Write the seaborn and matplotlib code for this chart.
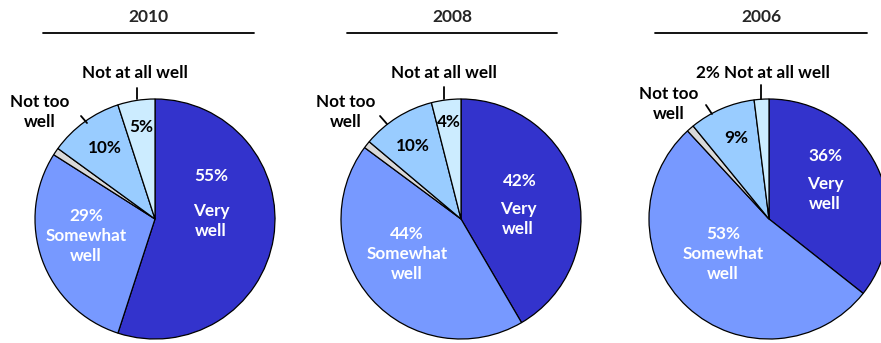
import matplotlib
matplotlib.use("Agg")
import matplotlib.pyplot as plt
from matplotlib.lines import Line2D
import seaborn as sns

years = ["2010", "2008", "2006"]
categories = ["Very well", "Somewhat well", "Don't know", "Not too well", "Not at all well"]
very_well = [55, 42, 36]
somewhat_well = [29, 44, 53]
dont_know = [1, 1, 1]
not_too_well = [10, 10, 9]
not_at_all_well = [5, 4, 2]

sns.set_style("white")
plt.rcParams["font.family"] = ["Lato", "DejaVu Sans"]
plt.rcParams["font.weight"] = "bold"

palette = sns.color_palette(["#3333CC", "#7799FF", "#D9D9D9", "#99CCFF", "#CCECFF"])

W, H = 881, 343
fig = plt.figure(figsize=(W / 100, H / 100), dpi=100)
fig.patch.set_facecolor("white")

# pie centres and title/underline spans in pixels
centres = [(155, 219), (461, 219), (769, 219)]
title_x = [148, 452, 761]
rule_spans = [(43, 254), (347, 557), (655, 867)]
R = 120.0  # pie radius in px
half = 150.0

# label offsets (px from centre, y up) per chart
layout = [
    dict(vw_pct=(56, 43), vw_txt=(56, -2), sw=(-69, -17), ntw=(-50, 71), naw=(-14, 92),
         naw_lbl=(-20, 146), ntw_lbl=(-115, 107),
         ntw_line=((-74, 103), (-68, 96)), naw_line=((-18, 131), (-18, 120))),
    dict(vw_pct=(59, 38), vw_txt=(57, 0), sw=(-54, -35), ntw=(-48, 73), naw=(-12, 97),
         naw_lbl=(-17, 146), ntw_lbl=(-115, 107),
         ntw_line=((-81, 103), (-74, 95)), naw_line=((-17, 132), (-17, 120))),
    dict(vw_pct=(56, 63), vw_txt=(56, 25), sw=(-46, -35), ntw=(-33, 81), naw=None,
         naw_lbl=(-6, 146), ntw_lbl=(-100, 115),
         ntw_line=((-63, 114), (-57, 105)), naw_line=((-8, 134), (-8, 120))),
]

fs = 12.3
for i, year in enumerate(years):
    cx, cy = centres[i]
    ax = fig.add_axes([(cx - half) / W, (H - cy - half) / H, 2 * half / W, 2 * half / H])
    vals = [very_well[i], somewhat_well[i], dont_know[i], not_too_well[i], not_at_all_well[i]]
    ax.pie(vals, colors=palette, startangle=90, counterclock=False, radius=1,
           wedgeprops=dict(edgecolor="black", linewidth=0.9))
    lim = half / R
    ax.set_xlim(-lim, lim)
    ax.set_ylim(-lim, lim)
    ax.set_aspect("equal")
    ax.axis("off")

    L = layout[i]
    p = lambda xy: (xy[0] / R, xy[1] / R)
    kw = dict(ha="center", va="center", fontsize=fs, fontweight="bold")
    ax.text(*p(L["vw_pct"]), f"{very_well[i]}%", color="white", **kw)
    ax.text(*p(L["vw_txt"]), "Very\nwell", color="white", linespacing=1.25, **kw)
    ax.text(*p(L["sw"]), f"{somewhat_well[i]}%\nSomewhat\nwell", color="white", linespacing=1.3, **kw)
    ax.text(*p(L["ntw"]), f"{not_too_well[i]}%", color="black", **kw)
    if L["naw"] is not None:
        ax.text(*p(L["naw"]), f"{not_at_all_well[i]}%", color="black", **kw)
        ax.text(*p(L["naw_lbl"]), "Not at all well", color="black", clip_on=False, **kw)
    else:
        ax.text(*p(L["naw_lbl"]), f"{not_at_all_well[i]}% Not at all well", color="black",
                clip_on=False, **kw)
    ax.text(*p(L["ntw_lbl"]), "Not too\nwell", color="black", linespacing=1.35, clip_on=False, **kw)
    for key in ["ntw_line", "naw_line"]:
        (x0, y0), (x1, y1) = L[key]
        ax.plot([x0 / R, x1 / R], [y0 / R, y1 / R], color="black", lw=1.3, clip_on=False)

    # title and underline
    fig.text(title_x[i] / W, 1 - 17 / H, year, ha="center", va="center",
             fontsize=12.5, fontweight="bold")
    x0, x1 = rule_spans[i]
    fig.add_artist(Line2D([x0 / W, x1 / W], [1 - 33 / H, 1 - 33 / H],
                          transform=fig.transFigure, color="black", lw=1.3))

fig.savefig("out.png", dpi=100)
